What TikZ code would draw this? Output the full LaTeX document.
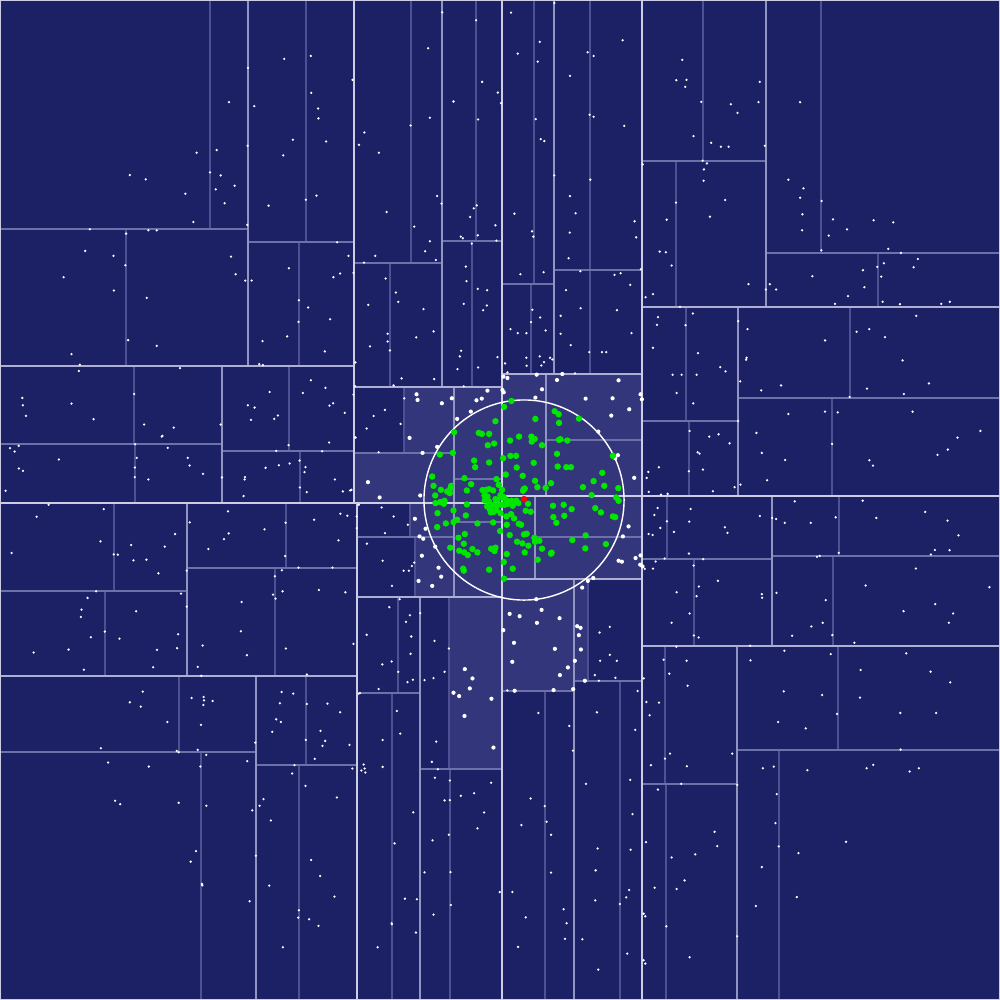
\documentclass[tikz,border=0pt]{standalone}
\usepackage{tikz}
\definecolor{bg}{HTML}{1C2166}
\definecolor{hl}{HTML}{33367B}
\definecolor{lA}{HTML}{CDCEE6}
\definecolor{lB}{HTML}{AEB0D3}
\definecolor{lC}{HTML}{9294C1}
\definecolor{lD}{HTML}{6D71AA}
\definecolor{lE}{HTML}{4D5194}
\definecolor{grn}{HTML}{00E600}
\tikzset{
  kA/.style={draw=lA,line width=0.42pt},
  kB/.style={draw=lB,line width=0.38pt},
  kC/.style={draw=lC,line width=0.34pt},
  kD/.style={draw=lD,line width=0.3pt},
  kE/.style={draw=lE,line width=0.3pt},
  hlcell/.style={fill=hl},
  zoomsc/.style={x=0.0033333cm,y=-0.0033333cm}
}
\newcommand\kdV[4]{\draw[#1] (#2,#3) -- (#2,#4);}
\newcommand\kdH[4]{\draw[#1] (#3,#2) -- (#4,#2);}
\newcommand\smallpts[1]{\foreach \x/\y in {#1} \fill[white] (\x,\y) circle (0.36pt);}
\newcommand\bigpts[1]{\foreach \x/\y in {#1} \fill[white] (\x,\y) circle (0.6pt);}
\newcommand\grnpts[1]{\foreach \x/\y in {#1} \fill[grn] (\x,\y) circle (0.92pt);}
\begin{document}
\begin{tikzpicture}[x=0.01cm,y=-0.01cm]
\useasboundingbox (0,0) rectangle (1000,1000);
\fill[bg] (0,0) rectangle (1000,1000);
% highlighted cells
\foreach \a/\b/\c/\d in {404/387/454/453,354/453/454/503,454/387/502/503,410/503/454/537,415/537/454/597,454/503/502/597,449/597/502/769,502/374/642/496,502/496/642/579,502/579/574/691,574/579/588/681}
  \fill[hlcell] (\a,\b) rectangle (\c,\d);
% level 6
\kdV{kE}{210}{0}{229}\kdV{kE}{126}{229}{366}\kdV{kE}{306}{0}{242}\kdV{kE}{299}{242}{366}
\kdV{kE}{134}{366}{444}\kdV{kE}{135}{444}{503}\kdV{kE}{289}{366}{451}\kdV{kE}{300}{451}{503}
\kdV{kE}{411}{0}{263}\kdV{kE}{390}{263}{387}\kdV{kE}{476}{0}{241}\kdV{kE}{472}{241}{387}
\kdV{kE}{404}{387}{453}\kdV{kE}{114}{503}{591}\kdV{kE}{105}{591}{676}\kdV{kE}{286}{503}{568}
\kdV{kE}{275}{568}{676}\kdV{kE}{179}{676}{752}\kdV{kE}{201}{752}{1000}\kdV{kE}{306}{676}{765}
\kdV{kE}{299}{765}{1000}\kdV{kE}{410}{503}{537}\kdV{kE}{415}{537}{597}\kdV{kE}{398}{597}{693}
\kdV{kE}{392}{693}{1000}\kdV{kE}{449}{597}{769}\kdV{kE}{450}{769}{1000}\kdV{kE}{534}{0}{284}
\kdV{kE}{531}{284}{374}\kdV{kE}{590}{0}{270}\kdV{kE}{590}{270}{374}\kdV{kE}{703}{0}{161}
\kdV{kE}{676}{161}{307}\kdV{kE}{821}{0}{253}\kdV{kE}{878}{253}{307}\kdV{kE}{686}{307}{421}
\kdV{kE}{689}{421}{496}\kdV{kE}{850}{307}{398}\kdV{kE}{832}{398}{496}\kdV{kE}{667}{496}{559}
\kdV{kE}{694}{559}{646}\kdV{kE}{839}{496}{556}\kdV{kE}{833}{556}{646}\kdV{kE}{665}{646}{784}
\kdV{kE}{666}{784}{1000}\kdV{kE}{838}{646}{750}\kdV{kE}{779}{750}{1000}\kdV{kE}{588}{579}{681}
\kdV{kE}{620}{681}{1000}\kdV{kE}{545}{691}{1000}
% level 5
\kdH{kD}{229}{0}{248}\kdH{kD}{242}{248}{354}\kdH{kD}{444}{0}{222}\kdH{kD}{451}{222}{354}
\kdH{kD}{263}{354}{442}\kdH{kD}{241}{442}{502}\kdH{kD}{453}{354}{454}\kdH{kD}{479}{454}{502}
\kdH{kD}{591}{0}{187}\kdH{kD}{568}{187}{357}\kdH{kD}{752}{0}{256}\kdH{kD}{765}{256}{357}
\kdH{kD}{537}{357}{454}\kdH{kD}{522}{454}{502}\kdH{kD}{693}{357}{420}\kdH{kD}{769}{420}{502}
\kdH{kD}{284}{502}{554}\kdH{kD}{270}{554}{642}\kdH{kD}{440}{546}{642}\kdH{kD}{161}{642}{766}
\kdH{kD}{253}{766}{1000}\kdH{kD}{421}{642}{738}\kdH{kD}{398}{738}{1000}\kdH{kD}{537}{535}{642}
\kdH{kD}{691}{502}{574}\kdH{kD}{681}{574}{642}\kdH{kD}{559}{642}{772}\kdH{kD}{556}{772}{1000}
\kdH{kD}{784}{642}{737}\kdH{kD}{750}{737}{1000}
% level 4
\kdV{kC}{248}{0}{366}\kdV{kC}{222}{366}{503}\kdV{kC}{442}{0}{387}\kdV{kC}{454}{387}{503}
\kdV{kC}{187}{503}{676}\kdV{kC}{256}{676}{1000}\kdV{kC}{454}{503}{597}\kdV{kC}{420}{597}{1000}
\kdV{kC}{554}{0}{374}\kdV{kC}{546}{374}{496}\kdV{kC}{766}{0}{307}\kdV{kC}{738}{307}{496}
\kdV{kC}{535}{496}{579}\kdV{kC}{574}{579}{1000}\kdV{kC}{772}{496}{646}\kdV{kC}{737}{646}{1000}
% level 3
\kdH{kB}{366}{0}{354}\kdH{kB}{387}{354}{502}\kdH{kB}{676}{0}{357}\kdH{kB}{597}{357}{502}
\kdH{kB}{374}{502}{642}\kdH{kB}{307}{642}{1000}\kdH{kB}{579}{502}{642}\kdH{kB}{646}{642}{1000}
% levels 0-2
\kdV{kA}{354}{0}{503}\kdV{kA}{357}{503}{1000}\kdV{kA}{642}{0}{496}\kdV{kA}{642}{496}{1000}
\kdH{kA}{503}{0}{502}\kdH{kA}{496}{502}{1000}
\kdV{kA}{502}{0}{1000}
\draw[kA] (0.6,0.6) rectangle (999.4,999.4);
% query circle
\draw[white,line width=0.4pt] (524,500) circle (1cm);
% points, zoom 1
\begin{scope}[shift={(0,0)},zoomsc]
\smallpts{854/177,934/168,745/204,1059/240,935/279,688/307,764/319,956/326,957/356,880/420,980/425,744/438,651/451,591/459,851/467,631/518,663/527,390/526,438/539,705/558,648/569,557/582,919/600,951/588,807/618,675/611,581/667,743/676,1013/728,1047/769,1062/820,1022/822,1002/833,270/689,446/692,471/692,379/702,256/754,341/769,694/771,377/797,708/824,737/843,756/843,868/806,191/833,342/873,441/895,898/902,926/924,897/967,992/959,385/1022,789/1025,863/1011,471/1039,215/1064,976/1056,240/1096,779/1094,790/1097,541/1106,1068/1089}
\end{scope}
\begin{scope}[shift={(350,0)},zoomsc]
\smallpts{277/37,379/61,484/38,614/9,235/145,570/126,504/161,564/185,714/157,732/168,819/121,661/228,397/246,444/278,311/305,454/310,240/354,385/359,558/358,720/345,732/351,824/378,182/377,43/398,27/435,573/418,584/424,87/459,614/527,722/540,262/589,275/612,381/617,372/626,361/652,110/637,494/642,678/641,661/589,855/665,860/713,193/681,437/677,333/711,339/716,384/707,547/695,551/711,660/699,240/725,440/723,366/732,226/755,76/769,258/781,42/789,657/776,107/837,348/801,350/845,384/868,412/872,512/824,582/818,692/815,795/826,813/821,842/856,874/809,138/879,145/907,55/916,221/929,342/913,411/918,400/932,548/931,571/954,544/968,649/872,693/926,802/932,633/949,482/989,504/1001,530/1001,588/993,633/1003,663/1037,846/1001,113/1003,113/1026,120/1053,251/996,199/1014,60/1041,334/1054,330/1071,443/1073,530/1075,570/1071,531/1099,583/1088,575/1098,601/1075,608/1080,466/1092,473/1119,719/1058,757/1058,770/1058,323/1109,385/1104,155/1137,253/1139,131/1158,342/1161,676/1122}
\end{scope}
\begin{scope}[shift={(640,0)},zoomsc]
\smallpts{127/180,109/241,140/240,136/261,360/246,184/306,273/313,293/339,356/307,481/307,161/409,214/429,243/441,266/441,375/438,8/494,188/483,201/491,192/509,191/543,108/609,256/601,80/660,210/651,446/540,491/566,481/594,546/604,488/644,580/659,487/692,567/708,622/689,702/662,761/668,59/756,78/758,95/798,545/752,746/748,784/760,835/778,733/791,713/802,822/803,670/812,725/831,518/830,390/854,409/870,378/870,326/854,674/863,625/890,17/893,39/884,586/913,729/907,781/914,905/913,931/907,120/922,54/953,51/976,159/942,137/977,295/965,323/989,830/949,651/997,689/989,736/1013,556/1023,39/1045,174/1061,320/1075,319/1081,789/1083,241/1103,257/1116,98/1126,125/1126,170/1126,301/1146,364/1173,424/1158,682/1168,868/1152,793/1184,110/1181,160/1212,630/1193,446/1244,556/1237,594/1239,819/1237,295/1265,1023/1295,954/1315,149/1295,208/1312,236/1305,269/1332,350/1301,577/1334,925/1351,894/1367,173/1359,179/1363,366/1361,436/1382,689/1383,700/1399,57/1404,25/1418,20/1436,147/1416,189/1411,382/1443,219/1476,284/1464,302/1456,26/1478,63/1486,83/1484}
\end{scope}
\begin{scope}[shift={(0,360)},zoomsc]
\smallpts{237/33,67/114,69/136,78/168,215/131,281/178,403/102,433/194,522/203,486/230,488/228,663/194,810/96,745/136,765/143,754/180,835/167,824/177,934/61,978/84,910/99,1001/130,990/137,1036/159,1062/104,1067/79,1067/233,989/248,867/256,830/273,968/274,30/265,56/258,44/275,177/299,406/253,411/294,504/264,564/294,570/317,405/323,405/352,446/359,610/342,667/353,57/326,69/333,17/393,798/324,838/316,870/311,900/302,918/322,915/337,736/352,735/359,1006/359,901/383,922/397,1030/395,1052/392,1056/390,732/409,146/435,312/448,110/471,302/545,35/580,342/584,354/585,394/556,495/561,526/523,401/602,440/600,476/641,570/488,685/455,687/521,673/538,626/568,795/509,858/489,857/589,944/480,1023/462,1044/468,1017/542,1072/470,1072/505,561/633,847/632,826/650,897/624,999/624,289/695,263/715,245/750,243/772,544/702,561/741,409/755,849/695,820/705,828/717,958/691,1038/698,726/727,315/816,273/833,359/837,535/824,724/815,101/879,206/870,472/871,532/866,609/858,742/887,859/867,1062/853,252/931,460/923,594/922,605/949,922/945,1078/435}
\end{scope}
\begin{scope}[shift={(0,670)},zoomsc]
\smallpts{429/65,390/97,423/110,576/84,612/81,613/91,639/93,611/105,503/156,604/165,846/66,881/71,841/100,922/102,984/101,1022/127,830/148,844/156,963/183,818/186,919/210,977/213,969/228,1050/225,767/218,946/267,303/235,531/243,537/247,594/240,620/255,743/274,885/286,1059/296,878/311,325/278,447/290,602/290,918/348,1012/383,792/388,780/408,758/422,346/393,361/403,537/399,620/408,814/452,589/544,573/576,769/558,935/571,962/619,607/643,608/647,809/648,1005/681,750/695,898/722,896/744,929/749,957/769,850/833,1078/71}
\end{scope}
\begin{scope}[shift={(350,680)},zoomsc]
\smallpts{141/93,151/161,98/180,259/185,246/246,264/268,41/254,44/266,34/272,46/278,98/261,255/294,300/302,424/309,284/362,300/361,333/348,373/340,403/398,190/398,383/446,297/465,248/482,134/491,224/578,302/577,303/676,165/657,201/659,251/705,125/731,126/734,198/759,83/803,450/637,566/99,659/138,670/212,742/97,857/150,709/312,842/300,849/403,843/510,744/506,738/572,543/356,585/379,591/426,515/436,604/465,604/579,488/637,839/631,830/653,811/673,737/662,642/689,651/731,528/713,646/778,698/779,505/802,833/822,746/870,864/33}
\bigpts{344/108,431/203}
\end{scope}
\begin{scope}[shift={(640,490)},zoomsc]
\smallpts{53/54,43/75,81/94,61/114,26/132,38/135,102/126,148/95,152/57,255/112,263/129,360/78,147/191,74/206,47/215,190/208,161/227,39/236,14/237,110/307,177/290,170/319,234/273,366/313,367/324,149/371,95/399,162/437,176/443,465/34,669/32,397/84,409/87,435/99,513/99,588/82,710/84,857/66,924/92,957/136,886/180,930/181,874/194,597/189,532/201,540/198,829/236,678/287,1050/292,410/309,558/331,887/343,792/364,941/371,928/399,549/399,515/410,457/438,578/436,644/459,109/471,331/468,71/510,140/513,88/552,143/588,11/566,19/637,57/639,29/677,90/792,75/807,33/827,141/830,277/792,124/883,54/900,292/886,434/483,573/493,332/512,663/541,800/491,873/546,932/578,432/605,547/616,661/624,592/673,415/697,498/716,782/670,890/670,783/780,369/836,402/831,503/842,681/836,701/826,810/846,838/836,411/914,407/1001,417/1071,476/1091,619/1057,366/1133,471/1223,348/1250,224/1027,232/1070,166/1095,95/1104,18/1058,134/1173,110/1199,44/1195,11/1273,16/1281,79/1311,292/1341,149/1404,11/1413,16/1423}
\end{scope}
\begin{scope}[shift={(350,530)},zoomsc]
\smallpts{126/168,149/208,118/232,180/256,168/276,184/320,50/315,182/372,125/395,97/404,145/426,173/457,189/450,30/490,86/478,211/250,254/333,297/356,284/426,251/445,224/451}
\bigpts{206/153,247/168,345/418,368/446,360/476,311/489,328/499,425/507}
\end{scope}
\begin{scope}[shift={(495,530)},zoomsc]
\smallpts{345/291,314/308,345/375,316/393,366/393,300/436,362/444,312/453,37/482}
\bigpts{279/153,262/173,124/208,140/240,44/252,74/259,126/279,194/265,25/301,247/289,257/294,252/316,258/359,57/339,180/357,52/396,240/393,219/413,195/436,270/453,235/478,176/481,59/483}
\end{scope}
\begin{scope}[shift={(350,370)},zoomsc]
\smallpts{163/85,105/120,71/138,152/162,50/176,17/203,86/247,95/413,131/440,174/465,105/490,51/522,98/573,161/603,186/589,177/603,193/579}
\bigpts{200/73,203/90,276/100,306/85,380/91,396/86,413/62,458/60,462/67,322/147,363/125,179/204,218/249,262/231,54/337,89/383,211/377,195/447,227/477,209/500,220/507,256/531,216/558,266/594,274/621,473/24,461/20,561/14,638/12,622/30,557/83,577/58,708/86,789/85,807/31,877/88,873/73,839/118,785/137,746/185,854/324,805/256,797/265,837/470,820/500,807/573,817/576,858/565,873/557,872/585,879/590,731/625}
\grnpts{485/93,463/111,437/154,557/147,615/124,627/133,628/159,688/146,313/187,387/189,396/192,418/192,481/212,508/200,545/200,555/207,546/215,628/210,632/208,653/212,577/226,414/226,433/221,270/254,309/249,460/265,482/258,499/258,622/252,373/272,376/292,418/278,501/293,552/279,624/290,650/292,664/292,790/258,247/320,344/325,440/328,468/314,519/318,556/333,758/309,732/334,251/348,304/348,364/343,522/358,525/356,563/352,588/354,604/340,700/352,764/348,806/355,273/360,292/365,300/370,302/355,351/362,398/361,410/360,418/358,430/362,447/345,457/360,462/382,520/363,256/377,404/377,413/380,726/376,800/383,807/393,257/400,271/397,282/402,284/393,405/392,417/394,437/388,443/390,452/376,460/384,470/392,485/393,500/393,506/400,535/402,610/408,642/405,666/418,737/415,754/428,790/440,797/442,351/404,412/410,420/418,430/405,440/408,454/405,465/405,474/402,489/408,498/395,263/430,311/422,348/437,423/428,432/426,440/420,452/430,470/440,484/433,493/446,528/423,543/426,611/442,620/459,644/438,322/450,311/457,288/461,383/461,430/458,471/465,507/462,514/465,262/472,451/484,480/496,523/494,531/492,345/493,326/504,708/497,668/511,554/504,569/513,502/516,518/521,536/528,556/516,342/522,301/534,328/543,343/548,354/556,368/538,383/548,424/537,437/534,434/544,471/553,525/548,577/537,606/549,604/552,707/536,769/523,564/570,462/577,340/597,342/603,418/600,489/597,463/627}
\fill[red] (523,388) circle (0.92pt);
\end{scope}
\end{tikzpicture}
\end{document}
